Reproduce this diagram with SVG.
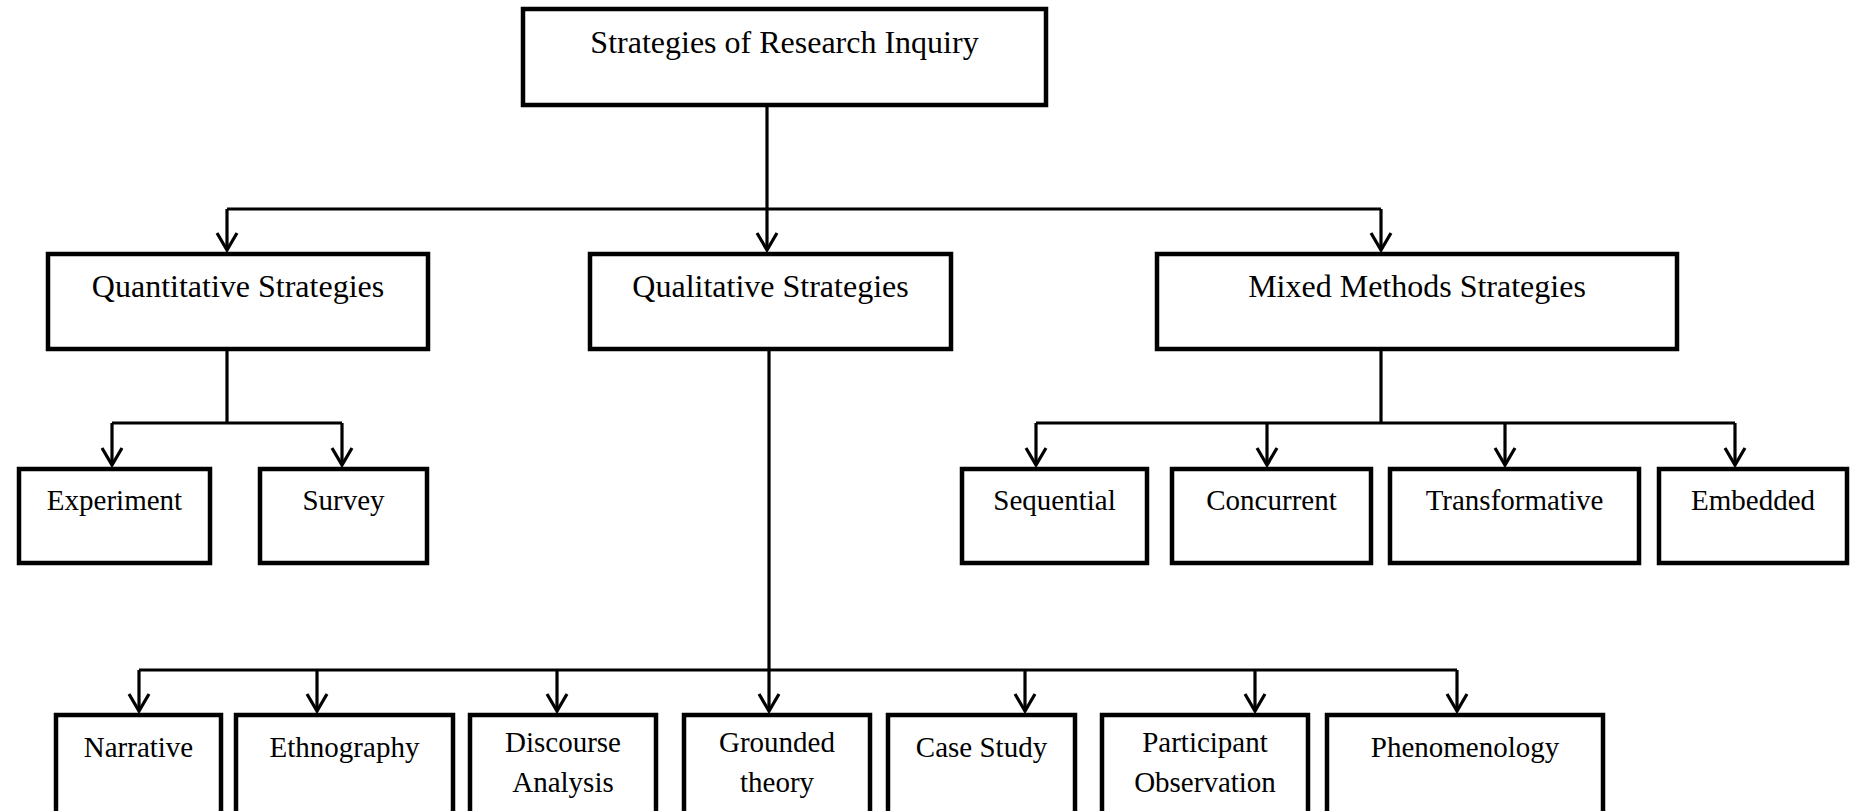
<svg xmlns="http://www.w3.org/2000/svg" width="1854" height="811" viewBox="0 0 1854 811">
<defs>
<marker id="arr" markerUnits="userSpaceOnUse" markerWidth="40" markerHeight="40" refX="0" refY="0" orient="auto" overflow="visible">
<path d="M -17 -10 L 0 0 L -17 10" fill="none" stroke="#000" stroke-width="3.2" stroke-linejoin="miter"/>
</marker>
<style>
.box{fill:#fff;stroke:#000;stroke-width:4.5}
.c{fill:none;stroke:#000;stroke-width:3.2}
.t{font-family:"Liberation Serif","Times New Roman",serif;fill:#000;text-anchor:middle}
.l1{font-size:32px}
.l2{font-size:29px}
</style>
</defs>
<rect width="1854" height="811" fill="#fff"/>
<g id="connectors">
<line class="c" x1="767" y1="107" x2="767" y2="250" marker-end="url(#arr)"/>
<line class="c" x1="227" y1="209" x2="1381" y2="209"/>
<line class="c" x1="227" y1="209" x2="227" y2="250" marker-end="url(#arr)"/>
<line class="c" x1="1381" y1="209" x2="1381" y2="250" marker-end="url(#arr)"/>
<line class="c" x1="227" y1="351" x2="227" y2="423"/>
<line class="c" x1="112" y1="423" x2="342" y2="423"/>
<line class="c" x1="112" y1="423" x2="112" y2="465" marker-end="url(#arr)"/>
<line class="c" x1="342" y1="423" x2="342" y2="465" marker-end="url(#arr)"/>
<line class="c" x1="1381" y1="351" x2="1381" y2="423"/>
<line class="c" x1="1036" y1="423" x2="1735" y2="423"/>
<line class="c" x1="1036" y1="423" x2="1036" y2="465" marker-end="url(#arr)"/>
<line class="c" x1="1267" y1="423" x2="1267" y2="465" marker-end="url(#arr)"/>
<line class="c" x1="1505" y1="423" x2="1505" y2="465" marker-end="url(#arr)"/>
<line class="c" x1="1735" y1="423" x2="1735" y2="465" marker-end="url(#arr)"/>
<line class="c" x1="769" y1="351" x2="769" y2="711" marker-end="url(#arr)"/>
<line class="c" x1="139" y1="670" x2="1457" y2="670"/>
<line class="c" x1="139" y1="670" x2="139" y2="711" marker-end="url(#arr)"/>
<line class="c" x1="317" y1="670" x2="317" y2="711" marker-end="url(#arr)"/>
<line class="c" x1="557" y1="670" x2="557" y2="711" marker-end="url(#arr)"/>
<line class="c" x1="1025" y1="670" x2="1025" y2="711" marker-end="url(#arr)"/>
<line class="c" x1="1255" y1="670" x2="1255" y2="711" marker-end="url(#arr)"/>
<line class="c" x1="1457" y1="670" x2="1457" y2="711" marker-end="url(#arr)"/>
</g>
<g id="root"><rect class="box" x="523" y="9" width="523" height="96"/><text class="t l1" x="784.5" y="53">Strategies of Research Inquiry</text></g>
<g id="quant"><rect class="box" x="48" y="254" width="380" height="95"/><text class="t l1" x="238" y="297">Quantitative Strategies</text></g>
<g id="qual"><rect class="box" x="590" y="254" width="361" height="95"/><text class="t l1" x="770.5" y="297">Qualitative Strategies</text></g>
<g id="mixed"><rect class="box" x="1157" y="254" width="520" height="95"/><text class="t l1" x="1417" y="297">Mixed Methods Strategies</text></g>
<g id="experiment"><rect class="box" x="19" y="469" width="191" height="94"/><text class="t l2" x="114.5" y="510">Experiment</text></g>
<g id="survey"><rect class="box" x="260" y="469" width="167" height="94"/><text class="t l2" x="343.5" y="510">Survey</text></g>
<g id="sequential"><rect class="box" x="962" y="469" width="185" height="94"/><text class="t l2" x="1054.5" y="510">Sequential</text></g>
<g id="concurrent"><rect class="box" x="1172" y="469" width="199" height="94"/><text class="t l2" x="1271.5" y="510">Concurrent</text></g>
<g id="transformative"><rect class="box" x="1390" y="469" width="249" height="94"/><text class="t l2" x="1514.5" y="510">Transformative</text></g>
<g id="embedded"><rect class="box" x="1659" y="469" width="188" height="94"/><text class="t l2" x="1753" y="510">Embedded</text></g>
<g id="narrative"><rect class="box" x="56" y="715" width="165" height="120"/><text class="t l2" x="138.5" y="757">Narrative</text></g>
<g id="ethnography"><rect class="box" x="236" y="715" width="217" height="120"/><text class="t l2" x="344.5" y="757">Ethnography</text></g>
<g id="discourse"><rect class="box" x="470" y="715" width="186" height="120"/><text class="t l2" x="563" y="752">Discourse</text><text class="t l2" x="563" y="792">Analysis</text></g>
<g id="grounded"><rect class="box" x="684" y="715" width="186" height="120"/><text class="t l2" x="777" y="752">Grounded</text><text class="t l2" x="777" y="792">theory</text></g>
<g id="casestudy"><rect class="box" x="888" y="715" width="187" height="120"/><text class="t l2" x="981.5" y="757">Case Study</text></g>
<g id="participant"><rect class="box" x="1102" y="715" width="206" height="120"/><text class="t l2" x="1205" y="752">Participant</text><text class="t l2" x="1205" y="792">Observation</text></g>
<g id="phenomenology"><rect class="box" x="1327" y="715" width="276" height="120"/><text class="t l2" x="1465" y="757">Phenomenology</text></g>
</svg>
